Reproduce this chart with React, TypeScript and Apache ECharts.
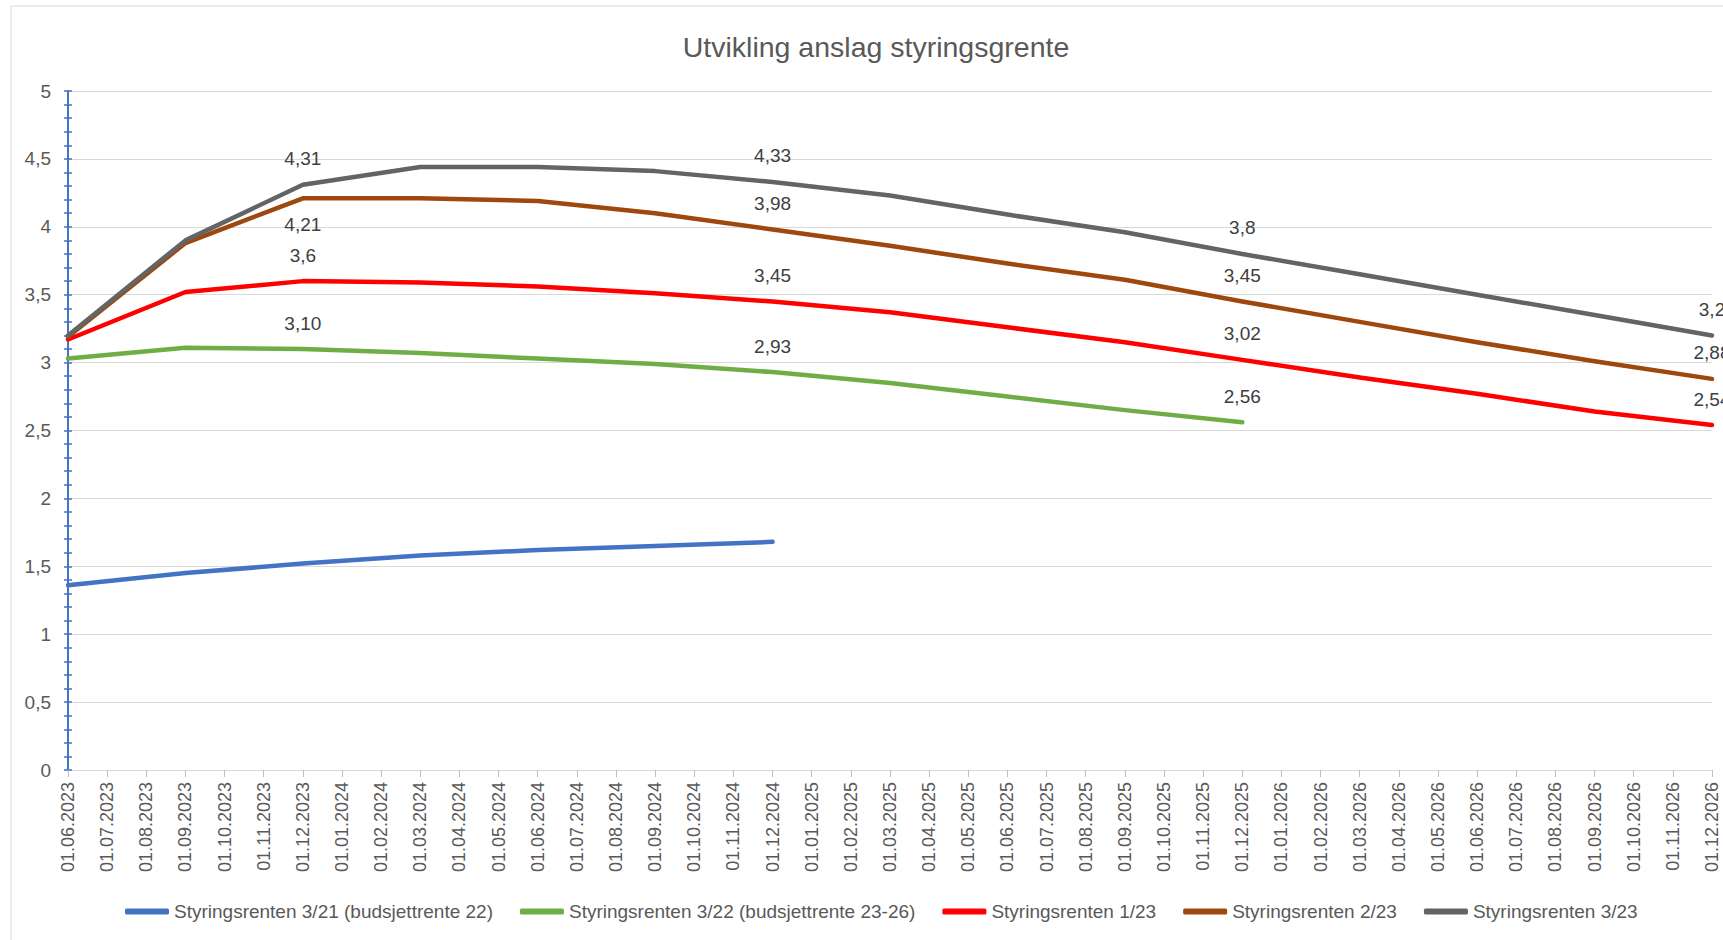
import React, { useEffect, useRef } from "react";
import * as echarts from "echarts";

const categories = [
  "01.06.2023", "01.07.2023", "01.08.2023", "01.09.2023", "01.10.2023", "01.11.2023", "01.12.2023",
  "01.01.2024", "01.02.2024", "01.03.2024", "01.04.2024", "01.05.2024", "01.06.2024",
  "01.07.2024", "01.08.2024", "01.09.2024", "01.10.2024", "01.11.2024", "01.12.2024",
  "01.01.2025", "01.02.2025", "01.03.2025", "01.04.2025", "01.05.2025", "01.06.2025",
  "01.07.2025", "01.08.2025", "01.09.2025", "01.10.2025", "01.11.2025", "01.12.2025",
  "01.01.2026", "01.02.2026", "01.03.2026", "01.04.2026", "01.05.2026", "01.06.2026",
  "01.07.2026", "01.08.2026", "01.09.2026", "01.10.2026", "01.11.2026", "01.12.2026",
];

const quarterDates = [
  "01.06.2023", "01.09.2023", "01.12.2023", "01.03.2024", "01.06.2024", "01.09.2024",
  "01.12.2024", "01.03.2025", "01.06.2025", "01.09.2025", "01.12.2025", "01.03.2026",
  "01.06.2026", "01.09.2026", "01.12.2026",
];

const seriesNames = [
  "Styringsrenten 3/21 (budsjettrente 22)",
  "Styringsrenten 3/22 (budsjettrente 23-26)",
  "Styringsrenten 1/23",
  "Styringsrenten 2/23",
  "Styringsrenten 3/23",
];

const blueValues = [1.36, 1.45, 1.52, 1.58, 1.62, 1.65, 1.68];
const greenValues = [3.03, 3.11, 3.10, 3.07, 3.03, 2.99, 2.93, 2.85, 2.75, 2.65, 2.56];
const redValues = [3.17, 3.52, 3.60, 3.59, 3.56, 3.51, 3.45, 3.37, 3.26, 3.15, 3.02, 2.89, 2.77, 2.64, 2.54];
const brownValues = [3.19, 3.88, 4.21, 4.21, 4.19, 4.10, 3.98, 3.86, 3.73, 3.61, 3.45, 3.30, 3.15, 3.01, 2.88];
const grayValues = [3.20, 3.90, 4.31, 4.44, 4.44, 4.41, 4.33, 4.23, 4.09, 3.96, 3.80, 3.65, 3.50, 3.35, 3.20];

const blueLabels: (string | null)[] = [];
const greenLabels = [null, null, "3,10", null, null, null, "2,93", null, null, null, "2,56"];
const redLabels = [null, null, "3,6", null, null, null, "3,45", null, null, null, "3,02", null, null, null, "2,54"];
const brownLabels = [null, null, "4,21", null, null, null, "3,98", null, null, null, "3,45", null, null, null, "2,88"];
const grayLabels = [null, null, "4,31", null, null, null, "4,33", null, null, null, "3,8", null, null, null, "3,2"];

const FONT = "'Liberation Sans', Arial, sans-serif";
const TEXT = "#595959";

function buildData(values: number[], labels: (string | null)[], belowIdx: number[]) {
  return values.map((v, i) => {
    const txt = labels[i];
    return {
      value: [quarterDates[i], v],
      label: txt
        ? {
            show: true,
            formatter: txt,
            position: belowIdx.includes(i) ? "bottom" : "top",
            distance: 15,
            color: "#404040",
            fontSize: 19,
            fontFamily: FONT,
          }
        : { show: false },
    };
  });
}

const seriesDefs = [
  { values: blueValues, labels: blueLabels, color: "#4472C4", below: [] as number[] },
  { values: greenValues, labels: greenLabels, color: "#70AD47", below: [] as number[] },
  { values: redValues, labels: redLabels, color: "#FF0000", below: [] as number[] },
  { values: brownValues, labels: brownLabels, color: "#9E480E", below: [2] },
  { values: grayValues, labels: grayLabels, color: "#646464", below: [] as number[] },
];

export default function App() {
  const ref = useRef<HTMLDivElement>(null);
  useEffect(() => {
    document.body.style.margin = "0";
    const chart = echarts.init(ref.current as HTMLDivElement, null, { renderer: "svg" });
    const yCommon = {
      type: "value",
      min: 0,
      max: 5,
      interval: 0.5,
      position: "left",
    };
    const option: any = {
      animation: false,
      backgroundColor: "#ffffff",
      title: {
        text: "Utvikling anslag styringsgrente",
        left: 871,
        top: 27,
        textAlign: "center",
        textStyle: { color: TEXT, fontSize: 28.5, fontWeight: "normal", fontFamily: FONT },
      },
      graphic: [
        {
          type: "rect",
          shape: { x: 11, y: 6, width: 1800, height: 1000 },
          style: { fill: "none", stroke: "#D9D9D9", lineWidth: 1 },
          silent: true,
        },
      ],
      legend: {
        left: 120,
        top: 897,
        itemWidth: 44,
        itemHeight: 6,
        itemGap: 27,
        icon: "roundRect",
        textStyle: { color: TEXT, fontSize: 19, fontFamily: FONT },
        data: seriesNames,
      },
      grid: { left: 68, right: 11, top: 91, bottom: 170, containLabel: false },
      xAxis: {
        type: "category",
        data: categories,
        boundaryGap: false,
        axisLine: { lineStyle: { color: "#D9D9D9", width: 1 } },
        axisTick: { show: true, interval: 0, length: 7, lineStyle: { color: "#BFBFBF" } },
        axisLabel: {
          interval: 0,
          rotate: 90,
          margin: 12,
          color: TEXT,
          fontSize: 18,
          fontFamily: FONT,
        },
      },
      yAxis: [
        {
          ...yCommon,
          axisLine: { show: true, lineStyle: { color: "#4472C4", width: 2 } },
          axisTick: { show: true, inside: false, length: 4, lineStyle: { color: "#4472C4", width: 1.5 } },
          minorTick: { show: true, splitNumber: 5, length: 4, lineStyle: { color: "#4472C4", width: 1.5 } },
          axisLabel: {
            margin: 17,
            color: TEXT,
            fontSize: 19,
            fontFamily: FONT,
            formatter: (v: number) => String(v).replace(".", ","),
          },
          splitLine: { show: true, lineStyle: { color: "#D9D9D9", width: 1 } },
        },
        {
          ...yCommon,
          offset: 0,
          axisLine: { show: false },
          axisTick: { show: true, inside: true, length: 4, lineStyle: { color: "#4472C4", width: 1.5 } },
          minorTick: { show: true, splitNumber: 5, length: 4, lineStyle: { color: "#4472C4", width: 1.5 } },
          axisLabel: { show: false },
          splitLine: { show: false },
        },
      ],
      series: seriesDefs.map((d, k) => ({
        name: seriesNames[k],
        type: "line",
        yAxisIndex: 0,
        data: buildData(d.values, d.labels, d.below),
        symbol: "circle",
        symbolSize: 3,
        showSymbol: true,
        showAllSymbol: true,
        color: d.color,
        itemStyle: { color: d.color },
        lineStyle: { color: d.color, width: 4.5, cap: "round", join: "round" },
        z: 2 + k,
      })),
    };
    chart.setOption(option);
    return () => chart.dispose();
  }, []);
  return <div ref={ref} style={{ width: 1723, height: 940 }} />;
}
